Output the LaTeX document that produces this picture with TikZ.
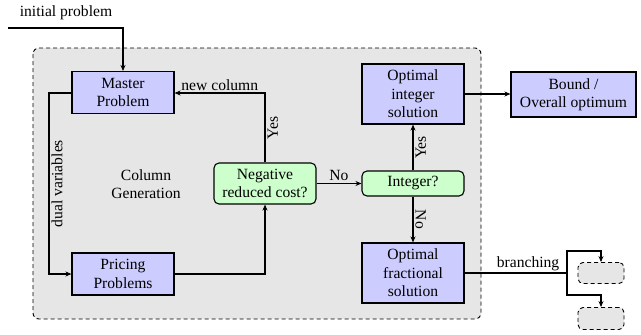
\documentclass[tikz,border=0pt]{standalone}
\usepackage{fontspec}
\setmainfont{Liberation Serif}
\usetikzlibrary{arrows.meta}

\definecolor{procfill}{RGB}{204,204,255}
\definecolor{testfill}{RGB}{204,255,204}
\definecolor{areafill}{RGB}{230,230,230}

\tikzset{
  every node/.style={font=\fontsize{15.6}{18.4}\selectfont, inner sep=0pt},
  proc/.style={draw, line width=1.1pt, fill=procfill, align=center, minimum width=102pt},
  test/.style={draw, line width=1.1pt, fill=testfill, align=center, rounded corners=5pt, minimum width=102pt},
  stub/.style={draw, dashed, line width=0.9pt, fill=areafill, rounded corners=5pt,
               dash pattern=on 4pt off 3pt, minimum width=46pt},
  flow/.style={line width=1.1pt, -{Stealth[length=6pt,width=5pt]}},
  lbl/.style={inner sep=2pt}
}

\begin{document}
\begin{tikzpicture}[x=1pt, y=-1pt]
\useasboundingbox (0,0) rectangle (641,335);

% column generation area
\draw[line width=0.9pt, dash pattern=on 4pt off 3pt, fill=areafill, rounded corners=6pt]
  (33,48) rectangle (481,319);

% process and decision nodes
\node[proc, minimum height=42pt] (master) at (123,92.5) {Master\\Problem};
\node[proc, minimum height=42pt] (pricing) at (123,274) {Pricing\\Problems};
\node[test, minimum height=41pt] (neg) at (265,183.5) {Negative\\reduced cost?};
\node[test, minimum height=25pt] (int) at (413,183.5) {Integer?};
\node[proc, minimum height=60pt] (optint) at (413,94) {Optimal\\integer\\solution};
\node[proc, minimum height=60pt] (frac) at (413,273) {Optimal\\fractional\\solution};
\node[proc, minimum width=125pt, minimum height=45pt] (bound) at (573.5,94.5) {Bound /\\Overall optimum};
\node[stub, minimum height=21pt] (sub1) at (601,273) {};
\node[stub, minimum height=22pt] (sub2) at (601,318.5) {};

\node (cg) at (146,184) [align=center] {Column\\Generation};
\node (init) at (66,13) {initial problem};

% helper points for the connectors
\coordinate (start) at (8,28);
\coordinate (split) at (567,273);

% connectors
\draw[flow] (start) -- (start -| master.north) -- (master.north);
\draw[flow] (master.west |- 0,93) -- (49,93) -- node[lbl, midway, rotate=90, below] {dual variables} (49,274) -- (pricing.west |- 0,274);
\draw[flow] (pricing.east) -| (neg.south);
\draw[flow] (neg.north) -- node[lbl, midway, rotate=90, below] {Yes} (neg.north |- 0,93) -- node[lbl, midway, above] {new column} (master.east |- 0,93);
\draw[flow] (neg.east) -- node[lbl, above] {No} (int.west);
\draw[flow] (int.north) -- node[lbl, rotate=90, below] {Yes} (optint.south);
\draw[flow] (int.south) -- node[lbl, rotate=-90, above] {No} (frac.north);
\draw[flow] (optint.east) -- (bound.west |- optint.east);
\draw[line width=1.1pt] (frac.east) -- node[lbl, above, pos=0.62] {branching} (split);
\draw[flow] (split) -- (567,251) -| (sub1.north);
\draw[flow] (split) -- (567,295) -| (sub2.north);
\end{tikzpicture}
\end{document}
